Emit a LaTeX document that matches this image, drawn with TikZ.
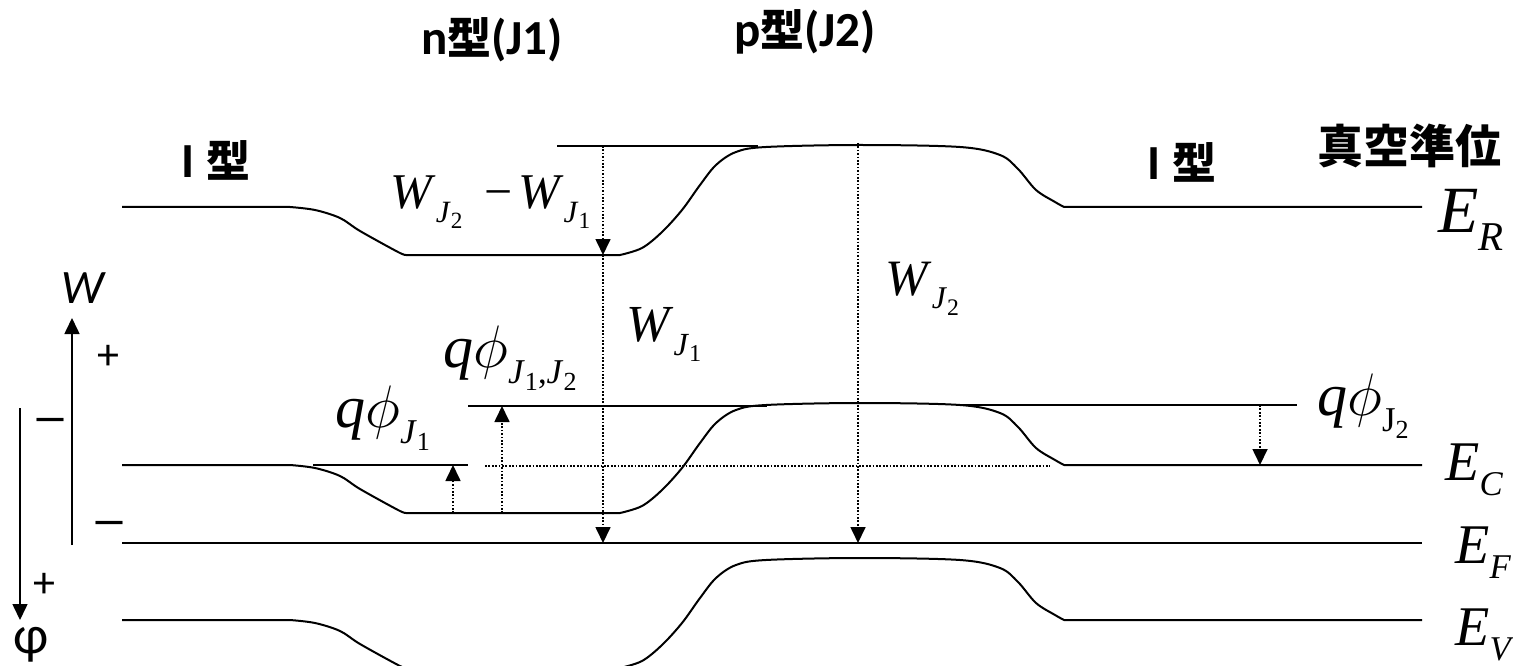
\RequirePackage{fix-cm}
\documentclass[tikz,border=0pt]{standalone}
\usepackage[no-math]{fontspec}
\setmainfont{Liberation Serif}
\newfontfamily\carl{Carlito}
\newfontfamily\cjk{Noto Sans CJK JP}
\usetikzlibrary{arrows.meta}
\newcommand\jb[1]{{\cjk\bfseries #1}}
\newcommand\lb[1]{{\carl\bfseries\fontsize{24.5}{28}\selectfont #1}}
\makeatletter
\newcommand\lowr[2][.6]{\raisebox{-.27em}{\fontsize{\strip@pt\dimexpr#1\dimexpr\f@size pt\relax\relax}{1}\selectfont #2}}
\newcommand\lowrr[2][.75]{\raisebox{-.2em}{\fontsize{\strip@pt\dimexpr#1\dimexpr\f@size pt\relax\relax}{1}\selectfont #2}}
\makeatother
\newcommand\iv[1]{\textit{#1}}
\tikzset{
  band/.style={line width=1pt, line join=round},
  lvl/.style={line width=1pt},
  dots/.style={line width=0.85pt, dash pattern=on 0.85pt off 0.85pt},
  tipdown/.style={-{Triangle[length=8pt,width=7.5pt]}},
  axis/.style={line width=0.8pt, -{Triangle[length=8pt,width=7.5pt]}},
  mlab/.style={anchor=base west, inner sep=0pt},
  jlab/.style={inner sep=0pt, font=\fontsize{22}{26}\selectfont},
  slab/.style={inner sep=0pt, font=\carl\fontsize{22}{26}\selectfont},
}
\begin{document}
\begin{tikzpicture}[x=0.5pt,y=-0.5pt]
\useasboundingbox (0,0) rectangle (1513,668);

% band curves: vacuum level, conduction band, valence band
\begin{scope}
\clip (0,0) rectangle (1513,665);
\foreach \yy in {207,465,620}{
  \draw[band, shift={(0,\yy)}] (122,0) -- (290,0)
    -- plot[smooth, tension=0.55] coordinates {(290,0) (315,3) (340,11) (360,24) (398,45) (406,48)}
    -- (620,48)
    -- plot[smooth, tension=0.55] coordinates {(620,48) (642,41) (662,25) (682,3) (700,-22) (716,-42) (736,-55) (766,-60) (860,-62) (960,-60) (1000,-52) (1018,-38) (1036,-17) (1055,-5) (1064,0)}
    -- (1422,0);
}
\end{scope}

% straight levels
\coordinate (efL) at (122,543);
\coordinate (efR) at (1422,543);
\draw[lvl] (efL) -- (efR);
\coordinate (vacL) at (557,146);
\coordinate (vacR) at (758,146);
\draw[lvl] (vacL) -- (vacR);
\coordinate (j1L) at (313,465);
\coordinate (j1R) at (468,465);
\draw[lvl] (j1L) -- (j1R);
\coordinate (j12L) at (468,406);
\coordinate (j12R) at (767,406);
\draw[lvl] (j12L) -- (j12R);
\coordinate (j2L) at (960,405);
\coordinate (j2R) at (1297,405);
\draw[lvl] (j2L) -- (j2R);

% dotted arrows
\coordinate (a0) at (603,146);
\coordinate (a1) at (603,255);
\coordinate (a2) at (603,543);
\draw[dots,tipdown] (a0) -- (a1);
\draw[dots,tipdown] (a1) -- (a2);
\coordinate (b0) at (858,143);
\coordinate (b1) at (858,543);
\draw[dots,tipdown] (b0) -- (b1);
\coordinate (c0) at (453,513);
\coordinate (c1) at (453,465);
\draw[dots,tipdown] (c0) -- (c1);
\coordinate (d0) at (502,513);
\coordinate (d1) at (502,406);
\draw[dots,tipdown] (d0) -- (d1);
\coordinate (e0) at (1260,405);
\coordinate (e1) at (1260,465);
\draw[dots,tipdown] (e0) -- (e1);
\coordinate (h0) at (485,466);
\coordinate (h1) at (1050,466);
\draw[dots] (h0) -- (h1);

% left axes
\coordinate (wax0) at (72,545);
\coordinate (wax1) at (72,318);
\draw[axis] (wax0) -- (wax1);
\coordinate (pax0) at (20,408);
\coordinate (pax1) at (20,620);
\draw[axis] (pax0) -- (pax1);
\node[inner sep=0pt, font=\carl\itshape\fontsize{24}{26}\selectfont] (Wlab) at (83,288) {W};
\node[slab] (plus1) at (108,357) {+};
\node[slab] (plus2) at (44,585) {+};
\node[inner sep=0pt, font=\carl\bfseries\fontsize{18.5}{20}\selectfont] (minus1) at (50,424) {—};
\node[inner sep=0pt, font=\carl\bfseries\fontsize{18.5}{20}\selectfont] (minus2) at (109,527) {—};
\node[inner sep=0pt, font=\carl\fontsize{27}{30}\selectfont] (philab) at (31,645) {φ};

% Japanese labels
\node[jlab] (nlab) at (492,40) {\lb{n}\jb{型}\lb{(J1)}};
\node[jlab] (plab) at (805,32) {\lb{p}\jb{型}\lb{(J2)}};
\node[jlab] (ileft) at (216,160) {\lb{I} \jb{型}};
\node[jlab] (iright) at (1182,162) {\lb{I} \jb{型}};
\node[inner sep=0pt, font=\fontsize{23}{26}\selectfont] (vac) at (1409,146) {\jb{真空準位}};

% math labels
\node[mlab, font=\fontsize{33}{36}\selectfont] (ER) at (1438,233) {\iv{E}\lowr[.62]{\iv{R}}};
\node[mlab, font=\fontsize{28}{30}\selectfont] (EC) at (1445,480) {\iv{E}\lowr[.62]{\iv{C}}};
\node[mlab, font=\fontsize{28}{30}\selectfont] (EF) at (1455,563) {\iv{E}\lowr[.62]{\iv{F}}};
\node[mlab, font=\fontsize{28}{30}\selectfont] (EV) at (1455,645) {\iv{E}\lowr[.62]{\iv{V}}};
\node[mlab, font=\fontsize{25}{30}\selectfont] (wdiff) at (390,209) {\iv{W}\lowr[.62]{\iv{J}\lowrr{2}}\hspace{.45em}−\hspace{.1em}\iv{W}\lowr[.62]{\iv{J}\lowrr{1}}};
\node[mlab, font=\fontsize{26}{30}\selectfont] (wj1) at (626,341) {\iv{W}\lowr[.62]{\iv{J}\lowrr{1}}};
\node[mlab, font=\fontsize{25.5}{30}\selectfont] (wj2) at (885,295) {\iv{W}\lowr[.62]{\iv{J}\lowrr{2}}};
\node[mlab, font=\fontsize{30}{32}\selectfont] (qj1) at (335,427) {\iv{q}$\phi$\lowr[.58]{\iv{J}\lowrr{1}}};
\node[mlab, font=\fontsize{30}{32}\selectfont] (qj12) at (443,367) {\iv{q}$\phi$\lowr[.58]{\iv{J}\lowrr{1},\iv{J}\lowrr{2}}};
\node[mlab, font=\fontsize{30}{32}\selectfont] (qj2) at (1317,415) {\iv{q}$\phi$\lowr[.58]{J\lowrr{2}}};
\end{tikzpicture}
\end{document}
